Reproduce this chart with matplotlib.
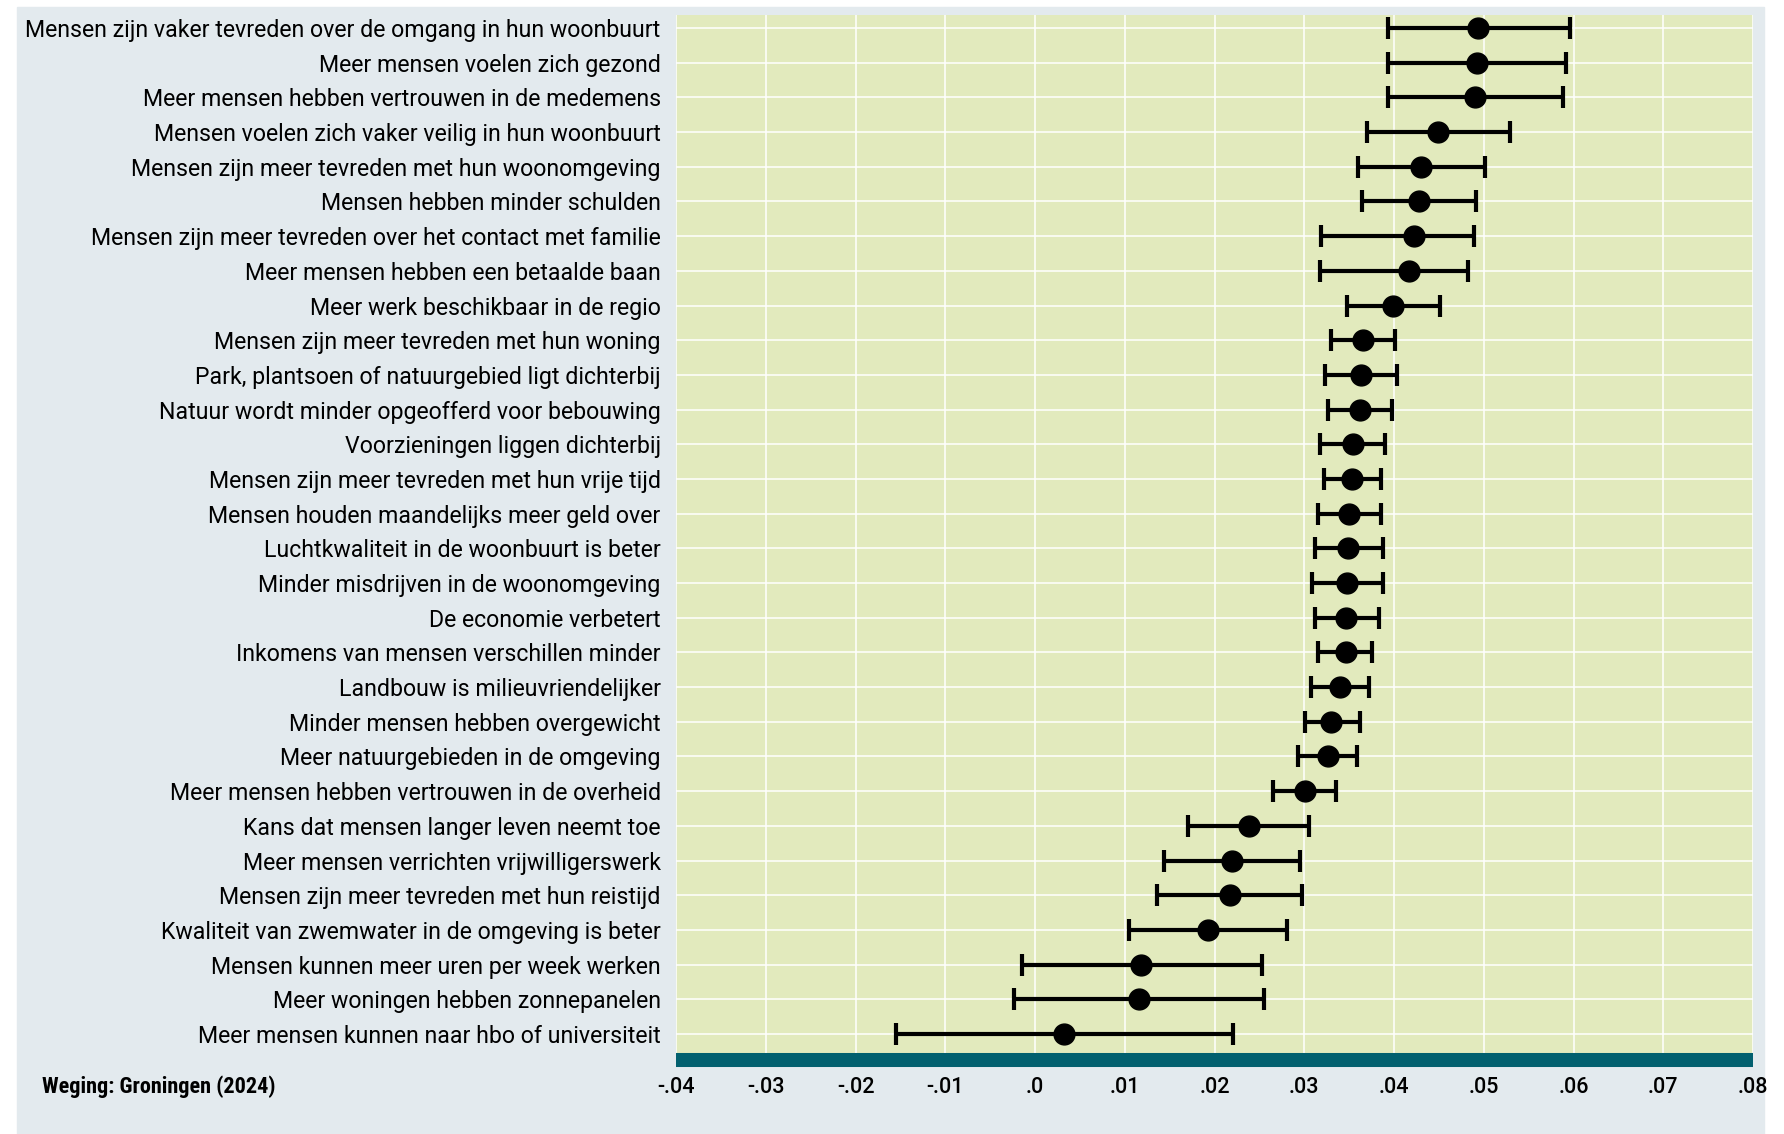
import matplotlib
matplotlib.use("Agg")
import matplotlib.pyplot as plt
from matplotlib import font_manager as fm
from matplotlib.patches import Rectangle

# categorieen, van boven naar beneden
labels = [
    "Mensen zijn vaker tevreden over de omgang in hun woonbuurt",
    "Meer mensen voelen zich gezond",
    "Meer mensen hebben vertrouwen in de medemens",
    "Mensen voelen zich vaker veilig in hun woonbuurt",
    "Mensen zijn meer tevreden met hun woonomgeving",
    "Mensen hebben minder schulden",
    "Mensen zijn meer tevreden over het contact met familie",
    "Meer mensen hebben een betaalde baan",
    "Meer werk beschikbaar in de regio",
    "Mensen zijn meer tevreden met hun woning",
    "Park, plantsoen of natuurgebied ligt dichterbij",
    "Natuur wordt minder opgeofferd voor bebouwing",
    "Voorzieningen liggen dichterbij",
    "Mensen zijn meer tevreden met hun vrije tijd",
    "Mensen houden maandelijks meer geld over",
    "Luchtkwaliteit in de woonbuurt is beter",
    "Minder misdrijven in de woonomgeving",
    "De economie verbetert",
    "Inkomens van mensen verschillen minder",
    "Landbouw is milieuvriendelijker",
    "Minder mensen hebben overgewicht",
    "Meer natuurgebieden in de omgeving",
    "Meer mensen hebben vertrouwen in de overheid",
    "Kans dat mensen langer leven neemt toe",
    "Meer mensen verrichten vrijwilligerswerk",
    "Mensen zijn meer tevreden met hun reistijd",
    "Kwaliteit van zwemwater in de omgeving is beter",
    "Mensen kunnen meer uren per week werken",
    "Meer woningen hebben zonnepanelen",
    "Meer mensen kunnen naar hbo of universiteit",
]

# schatting + ondergrens/bovengrens betrouwbaarheidsinterval
estimate = [0.0494, 0.0492, 0.0490, 0.0449, 0.0430, 0.0428, 0.0422, 0.0417, 0.0399, 0.0366,
            0.0363, 0.0362, 0.0354, 0.0353, 0.0350, 0.0349, 0.0348, 0.0347, 0.0346, 0.0340,
            0.0330, 0.0326, 0.0301, 0.0238, 0.0219, 0.0217, 0.0193, 0.0118, 0.0116, 0.0032]
lower = [0.0393, 0.0393, 0.0393, 0.0370, 0.0360, 0.0364, 0.0319, 0.0317, 0.0348, 0.0330,
         0.0323, 0.0326, 0.0317, 0.0322, 0.0315, 0.0312, 0.0309, 0.0312, 0.0315, 0.0307,
         0.0301, 0.0293, 0.0265, 0.0171, 0.0144, 0.0136, 0.0105, -0.0015, -0.0023, -0.0155]
upper = [0.0596, 0.0592, 0.0588, 0.0529, 0.0501, 0.0491, 0.0489, 0.0483, 0.0451, 0.0401,
         0.0403, 0.0398, 0.0390, 0.0385, 0.0385, 0.0388, 0.0388, 0.0383, 0.0376, 0.0372,
         0.0362, 0.0359, 0.0335, 0.0305, 0.0295, 0.0297, 0.0281, 0.0253, 0.0255, 0.0221]

xticks = [-0.04, -0.03, -0.02, -0.01, 0.0, 0.01, 0.02, 0.03, 0.04, 0.05, 0.06, 0.07, 0.08]
xtick_labels = ["-.04", "-.03", "-.02", "-.01", ".0", ".01", ".02", ".03", ".04",
                ".05", ".06", ".07", ".08"]

GRAY = "#e3eaee"
GREEN = "#e2eabd"
TEAL = "#02606f"

# lettertypes: gewoon voor labels, smal vet voor de voetnoot
names = {f.name for f in fm.fontManager.ttflist}
def pick(cands):
    for c in cands:
        if c in names:
            return c
    return "DejaVu Sans"

font_reg = pick(["Roboto", "Open Sans", "Noto Sans"])
font_narrow = pick(["Roboto Condensed", "Liberation Sans Narrow", "Roboto"])
plt.rcParams["font.family"] = [font_reg, "DejaVu Sans"]

W, H = 1784, 1134
fig = plt.figure(figsize=(W / 100, H / 100), dpi=100)
fig.patches.append(Rectangle((17 / W, 0), (1764 - 17) / W, (H - 7) / H,
                             transform=fig.transFigure, color=GRAY, zorder=-5))

ax = fig.add_axes([676 / W, (H - 1060) / H, 1077 / W, (1060 - 15) / H])
ax.set_zorder(1)
ax.set_facecolor(GREEN)

n = len(labels)
ypos = [n - 1 - i for i in range(n)]
xerr = [[e - l for e, l in zip(estimate, lower)], [u - e for e, u in zip(estimate, upper)]]
ax.errorbar(estimate, ypos, xerr=xerr, fmt="o", color="black", markersize=15,
            elinewidth=3.0, capsize=8, capthick=3.0, zorder=3)

ax.set_xlim(-0.04, 0.08)
ax.set_ylim(-0.75, n - 1 + 0.375)
ax.set_xticks(xticks)
ax.set_xticklabels(xtick_labels)
ax.set_yticks(ypos)
ax.set_yticklabels(labels)
ax.tick_params(axis="both", length=0, colors="black")
ax.tick_params(axis="y", pad=11, labelsize=16.7)
ax.tick_params(axis="x", pad=12, labelsize=15.5)
for t in ax.get_xticklabels():
    t.set_fontweight("medium")
ax.grid(True, color="white", linewidth=1.1)
ax.set_axisbelow(True)

for s in ["top", "left", "right"]:
    ax.spines[s].set_visible(False)
ax.spines["bottom"].set_color(TEAL)
ax.spines["bottom"].set_linewidth(10.1)
ax.spines["bottom"].set_capstyle("butt")

fig.text(42 / W, 1 - 1087 / H, "Weging: Groningen (2024)", fontsize=16,
         fontweight="bold", family=[font_narrow, "DejaVu Sans"], va="center", ha="left")

plt.savefig("out.png", dpi=100, facecolor="white")
